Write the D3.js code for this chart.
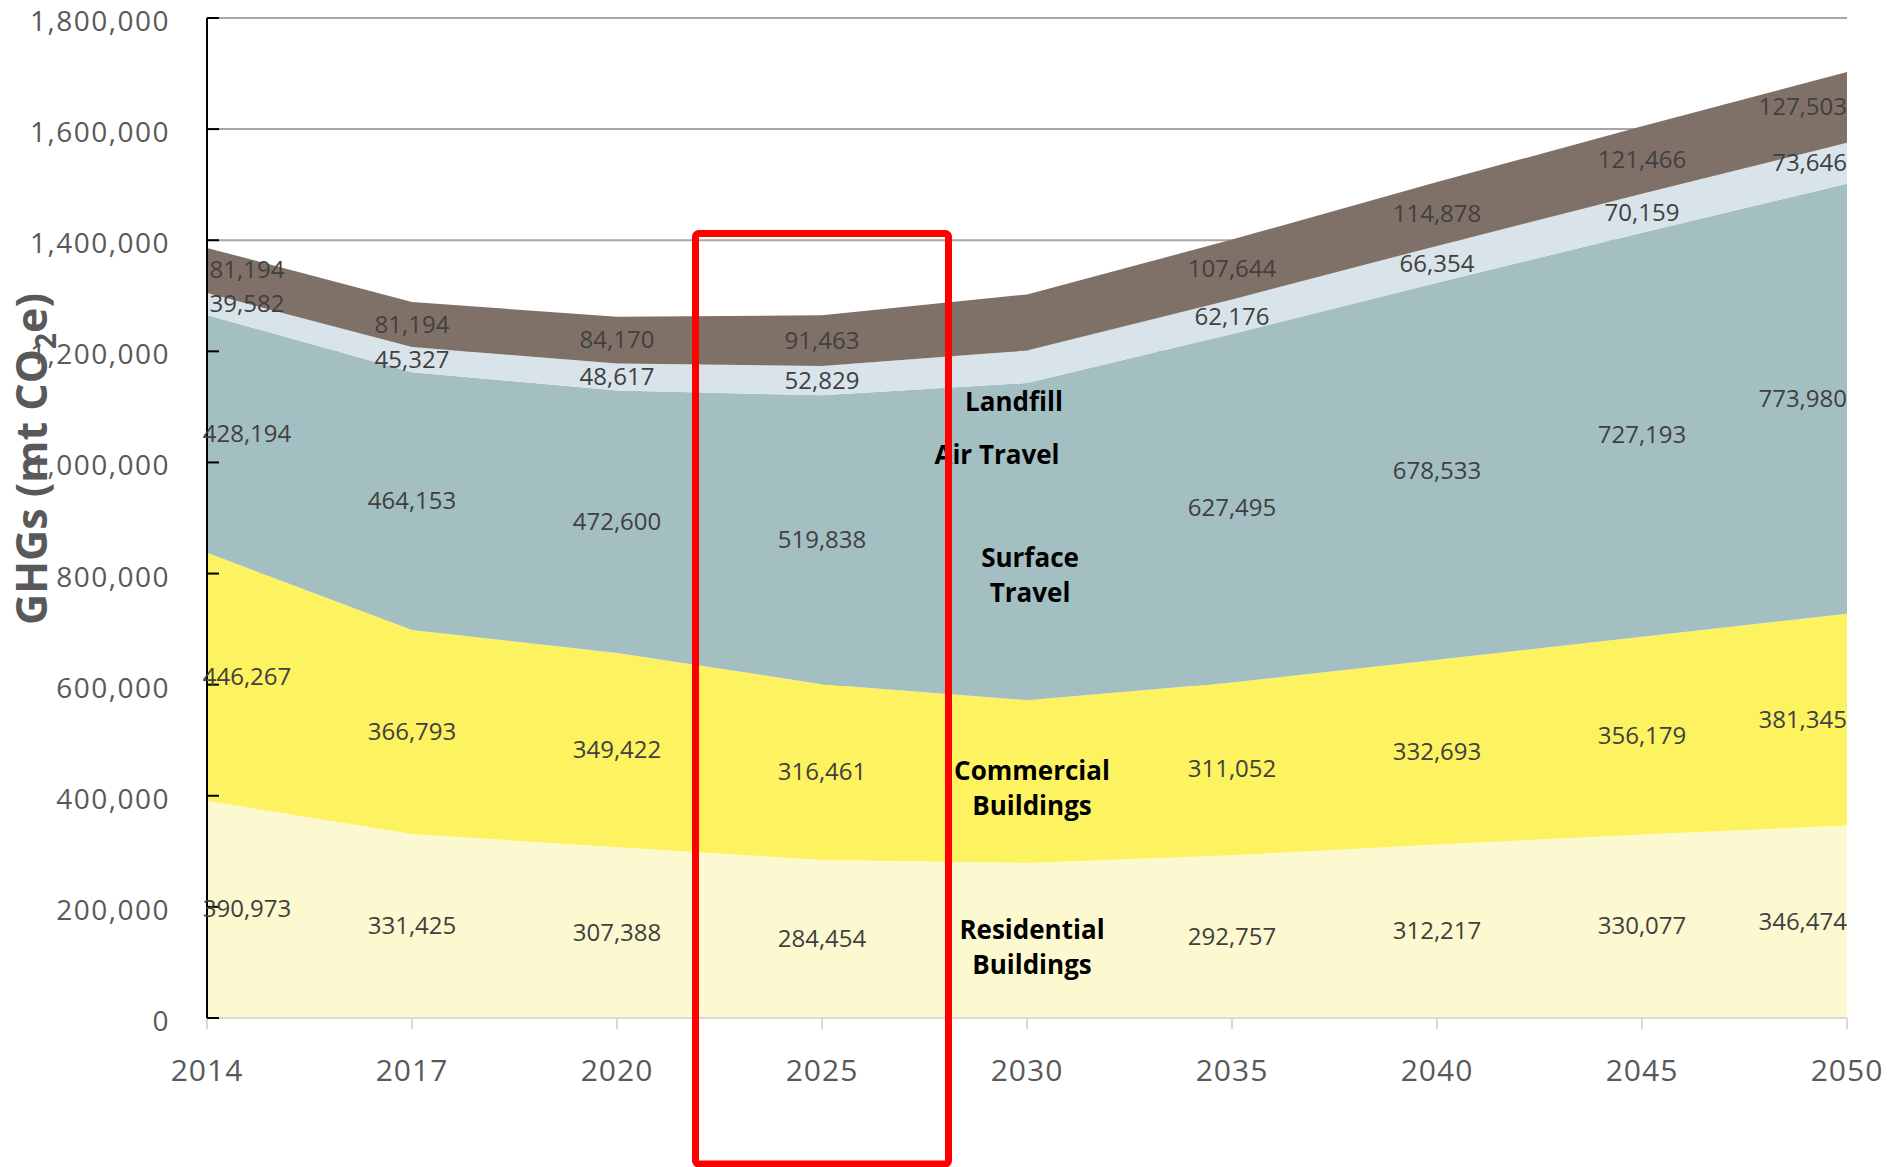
<!DOCTYPE html>
<html>
<head>
<meta charset="utf-8">
<script src="https://cdn.jsdelivr.net/npm/d3@7"></script>
<style>
  body { margin: 0; background: #fff; }
  svg { display: block; font-family: "Open Sans", sans-serif; }
</style>
</head>
<body>
<div class="chartBox"></div>
<script>
// years on the x axis (evenly spaced categories, not a time scale)
var years = ["2014", "2017", "2020", "2025", "2030", "2035", "2040", "2045", "2050"];

// sector series, bottom of the stack first
var residential = [390973, 331425, 307388, 284454, 279000, 292757, 312217, 330077, 346474];
var commercial  = [446267, 366793, 349422, 316461, 293000, 311052, 332693, 356179, 381345];
var surface     = [428194, 464153, 472600, 519838, 571000, 627495, 678533, 727193, 773980];
var airTravel   = [39582, 45327, 48617, 52829, 58500, 62176, 66354, 70159, 73646];
var landfill    = [81194, 81194, 84170, 91463, 101000, 107644, 114878, 121466, 127503];

// the 2030 column carries the sector names instead of numbers
var labelledYear = "2030";
var highlightYear = "2025";

var yTicks = [0, 200000, 400000, 600000, 800000, 1000000, 1200000, 1400000, 1600000, 1800000];

var keys = ["residential", "commercial", "surface", "airTravel", "landfill"];
var series = {
  residential: residential,
  commercial: commercial,
  surface: surface,
  airTravel: airTravel,
  landfill: landfill
};
var colors = {
  residential: "#fcf9d0",
  commercial: "#fdf260",
  surface: "#a3bfc2",
  airTravel: "#d9e3ea",
  landfill: "#807168"
};

// sector names written into the chart, anchored at the 2030 column
var sectorNames = [
  { lines: ["Landfill"], at: 1092600, dx: -13 },
  { lines: ["Air Travel"], at: 997200, dx: -30 },
  { lines: ["Surface", "Travel"], at: 811800, dx: 3 },
  { lines: ["Commercial", "Buildings"], at: 428400, dx: 5 },
  { lines: ["Residential", "Buildings"], at: 142200, dx: 5 }
];

var W = 1889, H = 1167;
var margin = { left: 207, right: 42, top: 18, bottom: 149 };

var table = years.map(function(y, i) {
  var row = { year: y };
  keys.forEach(function(k) { row[k] = series[k][i]; });
  return row;
});

var x = d3.scalePoint().domain(years).range([margin.left, W - margin.right]);
var y = d3.scaleLinear().domain([0, 1800000]).range([H - margin.bottom, margin.top]);

var stacked = d3.stack().keys(keys)(table);

var svg = d3.select(".chartBox").append("svg")
  .attr("width", W)
  .attr("height", H);

// gridlines sit behind the areas
svg.append("g").selectAll("line")
  .data(yTicks.slice(1))
  .enter().append("line")
  .attr("x1", x.range()[0])
  .attr("x2", x.range()[1])
  .attr("y1", function(d) { return y(d); })
  .attr("y2", function(d) { return y(d); })
  .style("stroke", "#a6a6a6")
  .style("stroke-width", 2);

var area = d3.area()
  .x(function(d) { return x(d.data.year); })
  .y0(function(d) { return y(d[0]); })
  .y1(function(d) { return y(d[1]); });

svg.append("g").selectAll("path")
  .data(stacked)
  .enter().append("path")
  .attr("d", area)
  .style("fill", function(d) { return colors[d.key]; });

// x axis: light grey line with ticks pointing down
var xAxis = svg.append("g");
xAxis.append("line")
  .attr("x1", x.range()[0]).attr("x2", x.range()[1])
  .attr("y1", y(0)).attr("y2", y(0))
  .style("stroke", "#d9d9d9").style("stroke-width", 2);
xAxis.selectAll(".tick")
  .data(years)
  .enter().append("line")
  .attr("x1", function(d) { return x(d); })
  .attr("x2", function(d) { return x(d); })
  .attr("y1", y(0)).attr("y2", y(0) + 11)
  .style("stroke", "#d9d9d9").style("stroke-width", 2);
xAxis.selectAll("text")
  .data(years)
  .enter().append("text")
  .attr("x", function(d) { return x(d); })
  .attr("y", y(0) + 63)
  .attr("text-anchor", "middle")
  .style("font-size", "30px")
  .style("letter-spacing", "1px")
  .style("fill", "#595959")
  .text(function(d) { return d; });

// y axis: black line, ticks pointing into the plot
var yAxis = svg.append("g");
yAxis.append("line")
  .attr("x1", margin.left).attr("x2", margin.left)
  .attr("y1", y(1800000)).attr("y2", y(0))
  .style("stroke", "#000").style("stroke-width", 2);
yAxis.selectAll(".tick")
  .data(yTicks)
  .enter().append("line")
  .attr("x1", margin.left).attr("x2", margin.left + 12)
  .attr("y1", function(d) { return y(d); })
  .attr("y2", function(d) { return y(d); })
  .style("stroke", "#000").style("stroke-width", 2);
yAxis.selectAll("text")
  .data(yTicks)
  .enter().append("text")
  .attr("x", 170)
  .attr("y", function(d) { return y(d) + 13; })
  .attr("text-anchor", "end")
  .style("font-size", "28px")
  .style("letter-spacing", "1.5px")
  .style("fill", "#595959")
  .text(function(d) { return d3.format(",")(d); });

var title = svg.append("text")
  .attr("transform", "translate(47," + 459 + ") rotate(-90)")
  .attr("text-anchor", "middle")
  .style("font-size", "43px")
  .style("font-weight", "bold")
  .style("fill", "#595959");
title.append("tspan").text("GHGs (mt CO");
title.append("tspan").attr("dy", 9).style("font-size", "28px").text("2");
title.append("tspan").attr("dy", -9).text("e)");

// value labels in the middle of every band, except the named column
var fmt = d3.format(",");
var last = years.length - 1;
stacked.forEach(function(layer) {
  svg.append("g").selectAll("text")
    .data(layer.filter(function(d) { return d.data.year !== labelledYear; }))
    .enter().append("text")
    .attr("x", function(d) {
      var i = years.indexOf(d.data.year);
      if (i === 0) return x(d.data.year) + 40;
      return x(d.data.year);
    })
    .attr("y", function(d) { return y((d[0] + d[1]) / 2) + 8; })
    .attr("text-anchor", function(d) {
      return years.indexOf(d.data.year) === last ? "end" : "middle";
    })
    .style("font-size", "24px")
    .style("fill", "#404040")
    .text(function(d) { return fmt(d.data[layer.key]); });
});

// sector names
var nameG = svg.append("g");
sectorNames.forEach(function(s) {
  var t = nameG.append("text")
    .attr("text-anchor", "middle")
    .style("font-size", "26px")
    .style("font-weight", "bold")
    .style("fill", "#000");
  s.lines.forEach(function(line, j) {
    t.append("tspan")
      .attr("x", x(labelledYear) + s.dx)
      .attr("y", y(s.at) + j * 35)
      .text(line);
  });
});

// red highlight box around the 2025 column
var half = x.step() * 0.617;
svg.append("rect")
  .attr("x", x(highlightYear) - half)
  .attr("y", y(1412100))
  .attr("width", half * 2)
  .attr("height", H - 3 - y(1412100))
  .attr("rx", 3)
  .style("fill", "none")
  .style("stroke", "#ff0000")
  .style("stroke-width", 7);
</script>
</body>
</html>
